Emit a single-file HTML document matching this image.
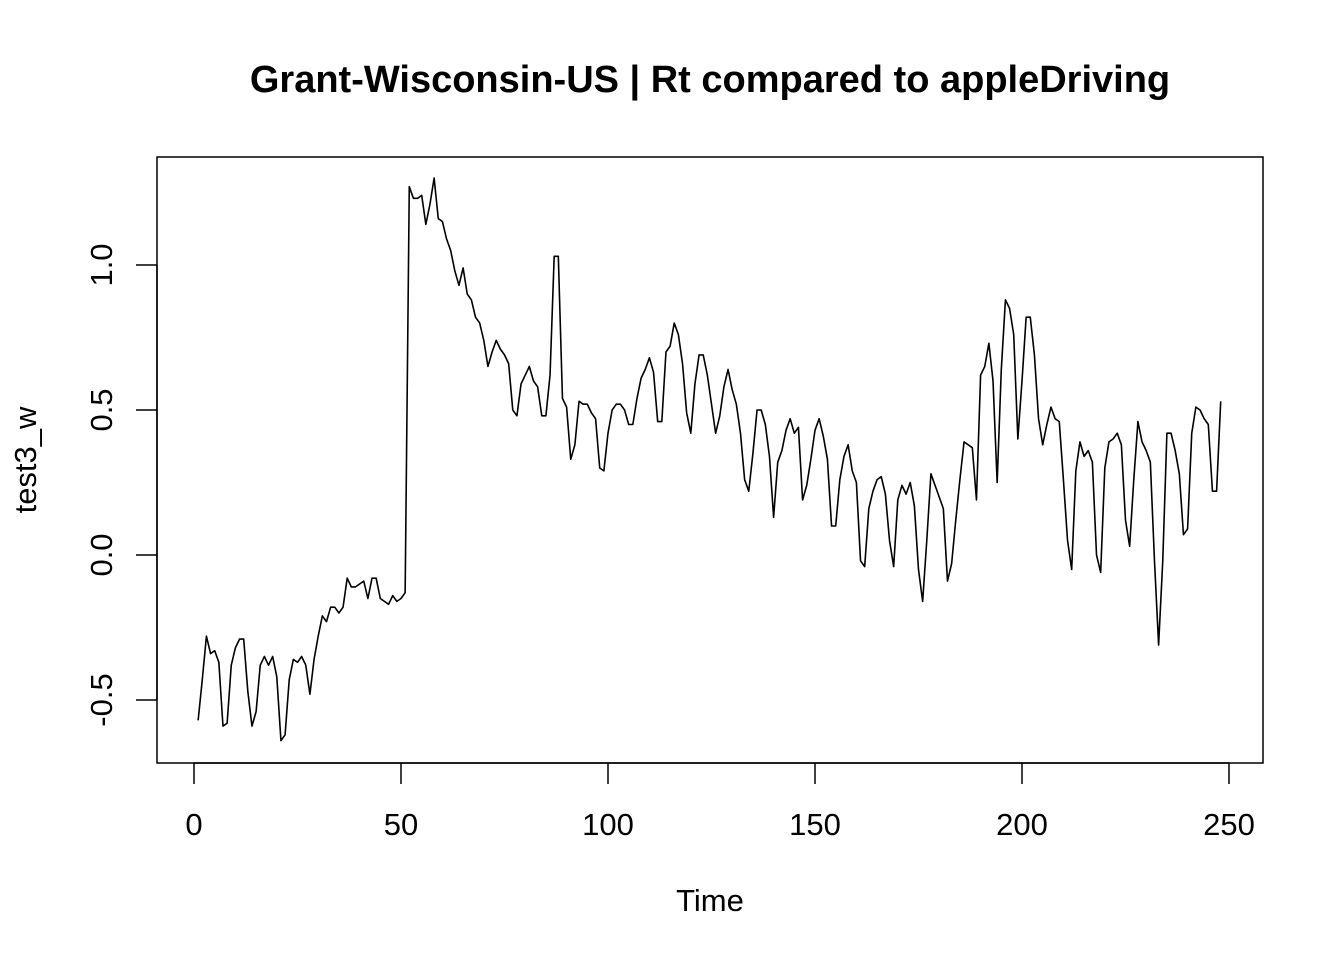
<!DOCTYPE html>
<html><head><meta charset="utf-8"><style>
html,body{margin:0;padding:0;background:#fff;}
svg{display:block;font-family:"Liberation Sans",Arial,sans-serif;}
</style></head><body>
<svg id="chart" width="1344" height="960" viewBox="0 0 1344 960">
<text x="710" y="92" text-anchor="middle" font-size="38" font-weight="bold">Grant-Wisconsin-US | Rt compared to appleDriving</text>
<rect x="157" y="157" width="1106" height="606" fill="none" stroke="#000" stroke-width="1.5"/>
<g id="xaxis"></g>
<g id="yaxis"></g>
<text x="710" y="911" text-anchor="middle" font-size="31">Time</text>
<text transform="translate(36,460) rotate(-90)" text-anchor="middle" font-size="31">test3_w</text>
<path id="series" fill="none" stroke="#000" stroke-width="1.6" stroke-linejoin="round"/>
</svg>
<script>
const xTicks = [0, 50, 100, 150, 200, 250];
const yTicks = [-0.5, 0.0, 0.5, 1.0];
const yTickLabels = ["-0.5", "0.0", "0.5", "1.0"];
const values = [
-0.57,-0.43,-0.28,-0.34,-0.33,-0.37,-0.59,-0.58,-0.38,-0.32,
-0.29,-0.29,-0.47,-0.59,-0.54,-0.38,-0.35,-0.38,-0.35,-0.42,
-0.64,-0.62,-0.43,-0.36,-0.37,-0.35,-0.38,-0.48,-0.36,-0.28,
-0.21,-0.23,-0.18,-0.18,-0.20,-0.18,-0.08,-0.11,-0.11,-0.10,
-0.09,-0.15,-0.08,-0.08,-0.15,-0.16,-0.17,-0.14,-0.16,-0.15,
-0.13,1.27,1.23,1.23,1.24,1.14,1.21,1.30,1.16,1.15,
1.09,1.05,0.98,0.93,0.99,0.90,0.88,0.82,0.80,0.74,
0.65,0.70,0.74,0.71,0.69,0.66,0.50,0.48,0.59,0.62,
0.65,0.60,0.58,0.48,0.48,0.62,1.03,1.03,0.54,0.51,
0.33,0.38,0.53,0.52,0.52,0.49,0.47,0.30,0.29,0.42,
0.50,0.52,0.52,0.50,0.45,0.45,0.54,0.61,0.64,0.68,
0.63,0.46,0.46,0.70,0.72,0.80,0.76,0.66,0.49,0.42,
0.59,0.69,0.69,0.62,0.52,0.42,0.48,0.58,0.64,0.57,
0.52,0.42,0.26,0.22,0.35,0.50,0.50,0.45,0.34,0.13,
0.32,0.36,0.43,0.47,0.42,0.44,0.19,0.24,0.33,0.43,
0.47,0.41,0.33,0.10,0.10,0.26,0.34,0.38,0.29,0.25,
-0.02,-0.04,0.16,0.22,0.26,0.27,0.21,0.05,-0.04,0.19,
0.24,0.21,0.25,0.17,-0.05,-0.16,0.05,0.28,0.24,0.20,
0.16,-0.09,-0.03,0.12,0.26,0.39,0.38,0.37,0.19,0.62,
0.65,0.73,0.60,0.25,0.64,0.88,0.85,0.76,0.40,0.60,
0.82,0.82,0.69,0.47,0.38,0.45,0.51,0.47,0.46,0.26,
0.05,-0.05,0.29,0.39,0.34,0.36,0.32,0.00,-0.06,0.30,
0.39,0.40,0.42,0.38,0.12,0.03,0.26,0.46,0.39,0.36,
0.32,-0.02,-0.31,-0.02,0.42,0.42,0.36,0.28,0.07,0.09,
0.42,0.51,0.50,0.47,0.45,0.22,0.22,0.53
];
const NS = "http://www.w3.org/2000/svg";
function xs(t){ return 194 + (t - 0) * (1229 - 194) / 250; }
function ys(v){ return 555 - v * 290; }
const xa = document.getElementById('xaxis');
const ya = document.getElementById('yaxis');
function mk(tag, attrs, parent){ const e = document.createElementNS(NS, tag); for (const k in attrs) e.setAttribute(k, attrs[k]); parent.appendChild(e); return e; }
mk('line', {x1: xs(xTicks[0]), x2: xs(xTicks[xTicks.length-1]), y1: 763, y2: 763, stroke: '#000', 'stroke-width': 1.5}, xa);
xTicks.forEach(t => {
  const l = mk('line', {x1: xs(t), x2: xs(t), y1: 763, y2: 784, stroke: '#000', 'stroke-width': 1.5}, xa);
  
  
  const tx = mk('text', {x: xs(t), y: 835, 'text-anchor': 'middle', 'font-size': 31}, xa);
  tx.textContent = String(t);
  
  
});
mk('line', {x1: 157, x2: 157, y1: ys(yTicks[0]), y2: ys(yTicks[yTicks.length-1]), stroke: '#000', 'stroke-width': 1.5}, ya);
yTicks.forEach((v, i) => {
  const l = mk('line', {x1: 136, x2: 157, y1: ys(v), y2: ys(v), stroke: '#000', 'stroke-width': 1.5}, ya);
  
  
  const tx = mk('text', {transform: 'translate(112,' + ys(v) + ') rotate(-90)', 'text-anchor': 'middle', 'font-size': 31}, ya);
  tx.textContent = yTickLabels[i];
  
  
});
let d = '';
values.forEach((v, i) => { d += (i ? 'L' : 'M') + xs(i + 1).toFixed(2) + ',' + ys(v).toFixed(2); });
document.getElementById('series').setAttribute('d', d);
</script>
</body></html>
